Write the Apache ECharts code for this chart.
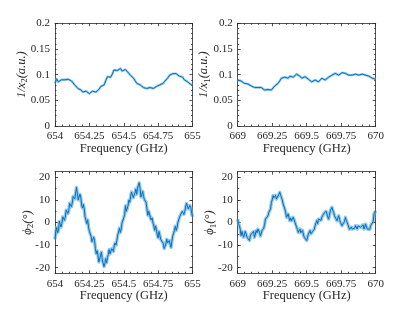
<!DOCTYPE html>
<html><head><meta charset="utf-8">
<script src="https://cdn.jsdelivr.net/npm/echarts@6/dist/echarts.min.js"></script>
<style>html,body{margin:0;padding:0;background:#fff}#c{width:415px;height:312px}</style>
</head><body><div id="c"></div>
<script>
// Frequency ranges (GHz) for the two columns
const freqRangeA = [654, 655];
const freqRangeB = [669, 670];
const xTicksA = [654, 654.25, 654.5, 654.75, 655];
const xTicksB = [669, 669.25, 669.5, 669.75, 670];
const invTicks = [0, 0.05, 0.1, 0.15, 0.2];
const phiTicks = [-20, -10, 0, 10, 20];
const phiMinorTicks = [-20, -15, -10, -5, 0, 5, 10, 15, 20];

// 1/x2 (a.u.), 654–655 GHz, evenly sampled
const invX2 = [0.083, 0.092, 0.086, 0.089, 0.090, 0.088, 0.090, 0.091, 0.091, 0.089, 0.088, 0.085, 0.080, 0.077, 0.073, 0.072, 0.070, 0.066, 0.064, 0.068, 0.067, 0.063, 0.064, 0.068, 0.070, 0.066, 0.065, 0.072, 0.077, 0.078, 0.080, 0.088, 0.096, 0.094, 0.095, 0.101, 0.109, 0.106, 0.108, 0.111, 0.112, 0.107, 0.108, 0.110, 0.108, 0.103, 0.099, 0.097, 0.093, 0.088, 0.083, 0.082, 0.080, 0.077, 0.075, 0.074, 0.073, 0.075, 0.075, 0.072, 0.073, 0.076, 0.077, 0.079, 0.080, 0.081, 0.083, 0.087, 0.090, 0.094, 0.099, 0.101, 0.102, 0.100, 0.102, 0.099, 0.097, 0.095, 0.095, 0.090, 0.089, 0.086, 0.083, 0.081, 0.080];
// 1/x1 (a.u.), 669–670 GHz
const invX1 = [0.0896, 0.087, 0.0876, 0.085, 0.083, 0.083, 0.082, 0.080, 0.078, 0.076, 0.075, 0.077, 0.075, 0.074, 0.075, 0.072, 0.070, 0.072, 0.071, 0.068, 0.070, 0.074, 0.078, 0.080, 0.083, 0.088, 0.093, 0.095, 0.095, 0.092, 0.093, 0.097, 0.099, 0.095, 0.097, 0.101, 0.104, 0.097, 0.093, 0.095, 0.096, 0.093, 0.091, 0.089, 0.086, 0.088, 0.0896, 0.087, 0.086, 0.084, 0.093, 0.091, 0.0896, 0.092, 0.095, 0.096, 0.099, 0.101, 0.1025, 0.099, 0.099, 0.101, 0.104, 0.103, 0.1025, 0.100, 0.099, 0.098, 0.099, 0.101, 0.101, 0.099, 0.099, 0.101, 0.101, 0.098, 0.099, 0.100, 0.097, 0.095, 0.093, 0.092, 0.091];
// phi2 (deg), 654–655 GHz
const phi2 = [-7.5, -4, -2.2, -4.5, -3.6, 0.5, -0.8, -2, -0.4, 2.5, 2.9, 1, 2.4, 5.5, 5.8, 4, 5.3, 8.5, 9.1, 7, 8.4, 11.5, 12.2, 10.5, 13.1, 15.5, 12.9, 10, 10.6, 12.5, 11.1, 7.5, 6.4, 8, 6.0, 2.5, 0.9, -0.5, 1.2, -2, -3.9, -4, -6.1, -8.5, -8.9, -6.5, -8.0, -11.5, -13.8, -12.5, -14.6, -17.5, -18.0, -14.5, -13.1, -16.5, -16.9, -19.5, -18.2, -16, -17.8, -15.5, -14.1, -12, -13.9, -13.5, -11.6, -11, -12.8, -10, -9.1, -10, -7.9, -5.5, -4.2, -2.5, -4.4, -3, -0.1, 0.5, 2.1, 3.5, 7.4, 5, 5.1, 7.5, 9.9, 9, 11.6, 13.5, 12.9, 11, 10.2, 13, 14.8, 12.5, 15.2, 16.5, 17.6, 15, 11.3, 12.5, 13.8, 11.5, 10.2, 10.5, 8.9, 6, 3.2, 5, 3.8, 2, 1.1, 2, -0.2, -1.5, -3.4, -1.5, -3.2, -5.5, -6.8, -4, -5.7, -7.5, -8.3, -7, -9.3, -11.5, -10.6, -9.5, -7.4, -9, -9.8, -8, -9.7, -11, -8.3, -6, -4.8, -3.5, -1.7, -3.5, -2.3, 0, 0.8, 2.5, 2.2, 3, 4.9, 5.5, 3.6, 5, 6.8, 8.5, 7.4, 6, 5.8, 7.5, 6.6, 4, 2.5];
// phi1 (deg), 669–670 GHz
const phi1 = [1.5, -0.5, -1.4, -3, -5.8, -4, -4.4, -6.5, -5.8, -4, -5.1, -6.5, -7.3, -6, -8, -6, -5.1, -5.5, -4.4, -4, -6.6, -6, -3.6, -4.5, -2.9, -2.5, -4.4, -6, -5.8, -3.5, -2.9, -2.5, -0.7, 1.5, 2.3, 1.5, 3, 4.5, 5.2, 6, 8.9, 10, 11.9, 11, 10.4, 12, 10.4, 10, 11.1, 12.5, 13.4, 12, 11.1, 10, 8.2, 7.5, 6, 4.5, 2.3, 3, 3.8, 2, 0.8, 2, 0.8, 1, 2.3, 1.5, 0.1, -0.5, -2.1, -3, -4.4, -4.5, -2.9, -4.5, -4.4, -3.5, -5.1, -6.5, -7.3, -6, -8, -7.5, -5.1, -4.5, -3.6, -5, -5.1, -4, -4.4, -3, -1.4, -1.5, 0.8, -0.5, 1.5, 2, 0.8, 1, 2.3, 3, 3.8, 3, 4.5, 5, 3.8, 2.5, 1.5, 3, 5.2, 5.5, 6.7, 5.5, 4.5, 3, 2.3, 2.5, 0.8, 1.5, 3, 1.5, 0.1, 0.5, -1.4, -2, -0.7, 0.5, 2.3, 1, 0.1, -1, -2.1, -3, -3.6, -2, -2.9, -3, -3.6, -2.5, -1.4, -2, -2.9, -1.5, -0.7, -1, -2.1, -2.5, -1.4, -1, -2.9, -2, -0.7, -2, -2.9, -3.5, -3.6, -3, -1.4, -1, -2.1, 0.5, 3.8, 4, 5.2];

function pairs(vals, range) {
  const n = vals.length;
  return vals.map((v, i) => [range[0] + (range[1] - range[0]) * i / (n - 1), v]);
}

const FONT = 'Liberation Serif';
const AX = '#262626';
const LINE = { color: AX, width: 0.8 };

const panels = [
  { grid: { left: 55, top: 23.3, width: 137.5, height: 102.7 }, range: freqRangeA, xt: xTicksA, vals: invX2, kind: 'inv', name: '{i|1/x}{s|2}{i|(a.u.)}', gap: 26 },
  { grid: { left: 237.7, top: 23.3, width: 138, height: 102.7 }, range: freqRangeB, xt: xTicksB, vals: invX1, kind: 'inv', name: '{i|1/x}{s|1}{i|(a.u.)}', gap: 26 },
  { grid: { left: 55, top: 171.7, width: 137.5, height: 101.6 }, range: freqRangeA, xt: xTicksA, vals: phi2, kind: 'phi', name: '{i|ϕ}{s|2}{i|(°)}', gap: 20 },
  { grid: { left: 237.7, top: 171.7, width: 138, height: 101.6 }, range: freqRangeB, xt: xTicksB, vals: phi1, kind: 'phi', name: '{i|ϕ}{s|1}{i|(°)}', gap: 20 }
];

const grid = [], xAxis = [], yAxis = [], series = [];
panels.forEach((p, gi) => {
  grid.push(p.grid);
  const xmin = p.xt[0], xmax = p.xt[p.xt.length - 1];
  const xBase = {
    type: 'value', gridIndex: gi, min: xmin, max: xmax, interval: p.xt[1] - p.xt[0],
    splitLine: { show: false },
    axisLine: { onZero: false, lineStyle: LINE },
    axisTick: { inside: true, length: 3, lineStyle: LINE },
    minorTick: { show: true, splitNumber: 5, length: 1.5, lineStyle: LINE }
  };
  const xBottomIdx = xAxis.length;
  xAxis.push(Object.assign({}, xBase, {
    position: 'bottom',
    axisLabel: { fontFamily: FONT, fontSize: 11, color: AX, margin: 5 },
    name: 'Frequency (GHz)', nameLocation: 'middle', nameGap: 16, nameMoveOverlap: false,
    nameTextStyle: { fontFamily: FONT, fontSize: 12.5, color: AX }
  }));
  xAxis.push(Object.assign({}, xBase, { position: 'top', axisLabel: { show: false } }));

  const nameStyle = {
    fontFamily: FONT, fontSize: 12.5, color: AX,
    rich: {
      i: { fontFamily: FONT, fontStyle: 'italic', fontSize: 12.5, color: AX, lineHeight: 15 },
      s: { fontFamily: FONT, fontSize: 9, color: AX, verticalAlign: 'bottom', lineHeight: 15 }
    }
  };
  let yBase;
  if (p.kind === 'inv') {
    yBase = {
      type: 'value', gridIndex: gi, min: invTicks[0], max: invTicks[invTicks.length - 1], interval: invTicks[1] - invTicks[0],
      splitLine: { show: false },
      axisLine: { onZero: false, lineStyle: LINE },
      axisTick: { inside: true, length: 3, lineStyle: LINE },
      minorTick: { show: true, splitNumber: 5, length: 1.5, lineStyle: LINE }
    };
  } else {
    yBase = {
      type: 'value', gridIndex: gi, min: -22.5, max: 22.5,
      splitLine: { show: false },
      axisLine: { onZero: false, lineStyle: LINE },
      axisTick: { inside: true, length: 3, lineStyle: LINE, customValues: phiTicks }
    };
  }
  const yLeftIdx = yAxis.length;
  yAxis.push(Object.assign({}, yBase, {
    position: 'left',
    axisLabel: Object.assign({ fontFamily: FONT, fontSize: 11, color: AX, margin: 5 },
      p.kind === 'phi' ? { customValues: phiTicks } : {}),
    name: p.name, nameLocation: 'middle', nameRotate: 90, nameGap: p.gap, nameMoveOverlap: false,
    nameTextStyle: nameStyle
  }));
  yAxis.push(Object.assign({}, yBase, { position: 'right', axisLabel: { show: false } }));
  if (p.kind === 'phi') {
    ['left', 'right'].forEach(pos => {
      yAxis.push({
        type: 'value', gridIndex: gi, min: -22.5, max: 22.5, position: pos,
        splitLine: { show: false }, axisLabel: { show: false },
        axisLine: { show: false, onZero: false },
        axisTick: { inside: true, length: 1.5, lineStyle: LINE, customValues: phiMinorTicks }
      });
    });
  }
  const data = pairs(p.vals, p.range);
  series.push({
    type: 'line', xAxisIndex: xBottomIdx, yAxisIndex: yLeftIdx, data: data,
    showSymbol: false, silent: true, animation: false,
    lineStyle: { color: '#6aaee0', opacity: 0.7, width: p.kind === 'phi' ? 3.4 : 2.4, join: 'round' }
  });
  series.push({
    type: 'line', xAxisIndex: xBottomIdx, yAxisIndex: yLeftIdx, data: data,
    showSymbol: false, silent: true, animation: false,
    lineStyle: { color: '#0072BD', width: 1, join: 'round' }
  });
});

const chart = echarts.init(document.getElementById('c'), null, { renderer: 'canvas' });
chart.setOption({ animation: false, grid, xAxis, yAxis, series });
</script>
</body></html>
